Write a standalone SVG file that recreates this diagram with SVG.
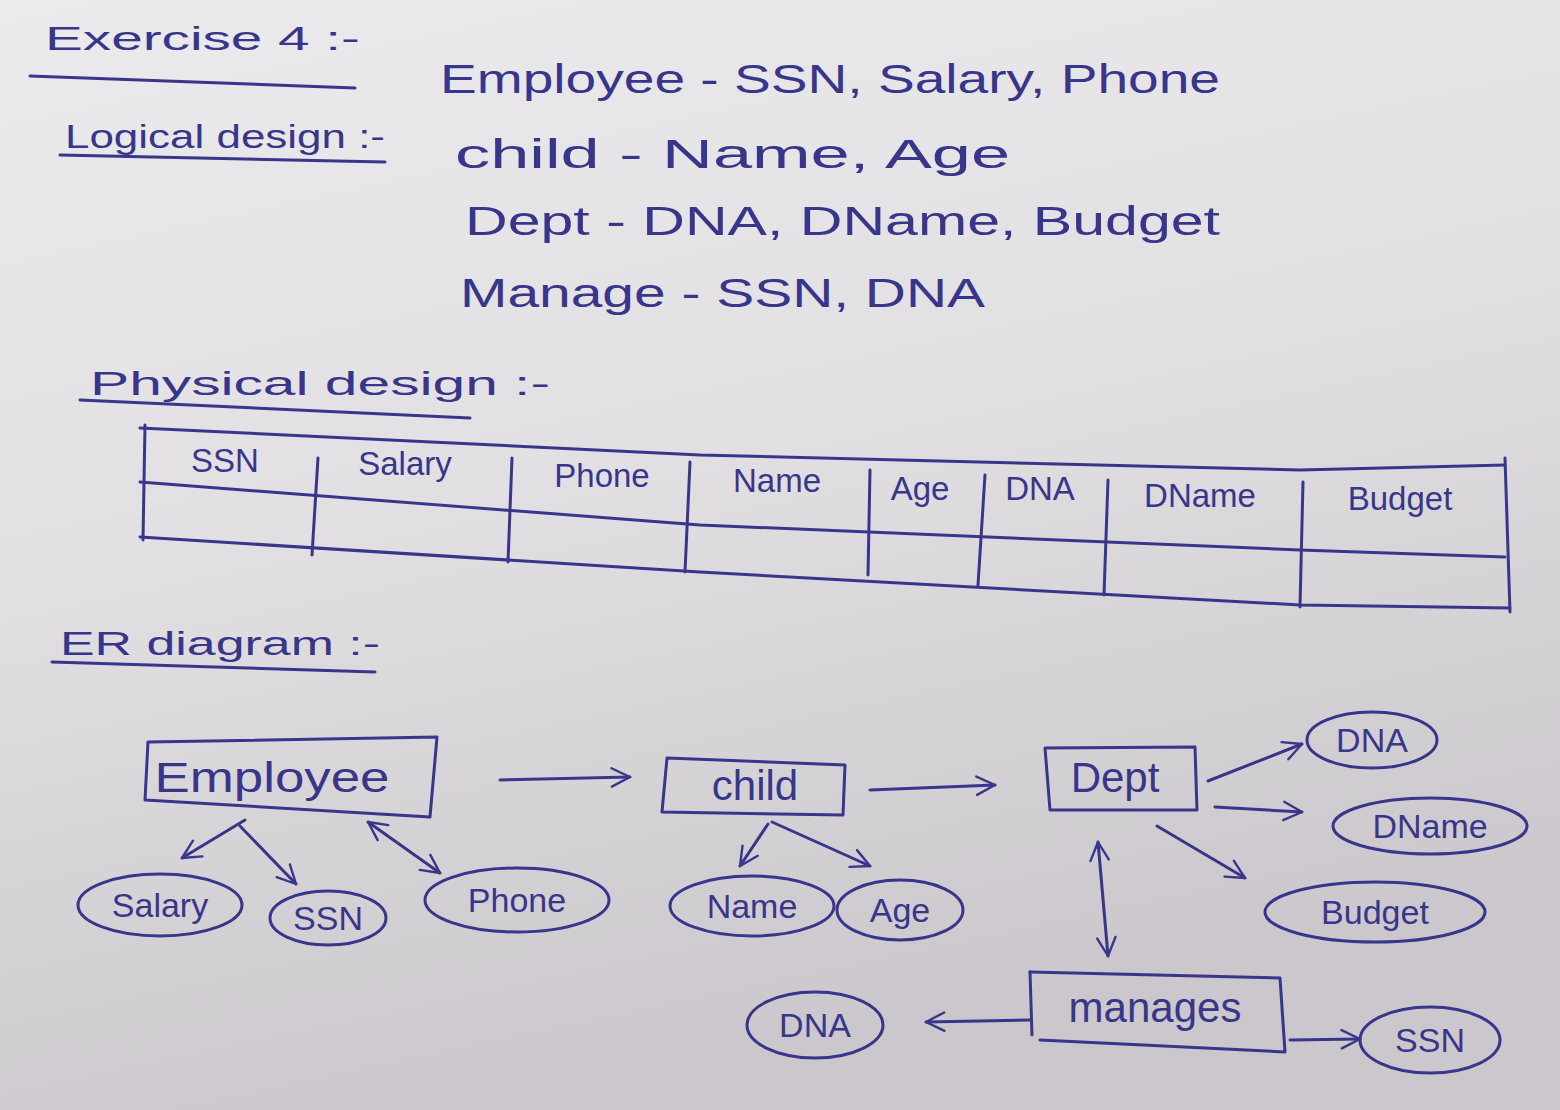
<svg xmlns="http://www.w3.org/2000/svg" width="1560" height="1110" viewBox="0 0 1560 1110">
<defs>
<linearGradient id="paper" x1="0" y1="0" x2="0.3" y2="1">
<stop offset="0" stop-color="#ebeaed"/>
<stop offset="0.5" stop-color="#e1dfe2"/>
<stop offset="1" stop-color="#cbc7cc"/>
</linearGradient>
<marker id="ah" viewBox="0 0 12 12" refX="11" refY="6" markerWidth="22" markerHeight="22" markerUnits="userSpaceOnUse" orient="auto-start-reverse">
<path d="M1,1 L11,6 L1,11" fill="none" stroke="#38368a" stroke-width="1.3" stroke-linecap="round" stroke-linejoin="round"/>
</marker>
</defs>
<style>
.ink{fill:none;stroke:#38368a;stroke-width:3;stroke-linecap:round;stroke-linejoin:round}
.t{font-family:"Liberation Sans","DejaVu Sans",sans-serif;fill:#38368a}
.h{font-size:34px}
.l{font-size:40px}
.c{font-size:33px;text-anchor:middle}
.n{font-size:42px;text-anchor:middle}
.a{font-size:34px;text-anchor:middle}
.arr{fill:none;stroke:#38368a;stroke-width:3;stroke-linecap:round}
</style>
<rect width="1560" height="1110" fill="url(#paper)"/>

<!-- headings -->
<g id="headings">
<text class="t h" x="45" y="50" textLength="315" lengthAdjust="spacingAndGlyphs">Exercise 4 :-</text>
<path class="ink" d="M30,76 L355,88"/>
<text class="t h" x="65" y="148" textLength="320" lengthAdjust="spacingAndGlyphs">Logical design :-</text>
<path class="ink" d="M60,155 L385,162"/>
<text class="t h" x="90" y="395" textLength="460" lengthAdjust="spacingAndGlyphs">Physical design :-</text>
<path class="ink" d="M80,400 L470,418"/>
<text class="t h" x="60" y="655" textLength="320" lengthAdjust="spacingAndGlyphs">ER diagram :-</text>
<path class="ink" d="M52,662 L375,672"/>
</g>

<!-- logical design -->
<g id="logical">
<text class="t l" x="440" y="93" textLength="780" lengthAdjust="spacingAndGlyphs">Employee - SSN, Salary, Phone</text>
<text class="t l" x="455" y="168" textLength="555" lengthAdjust="spacingAndGlyphs">child - Name, Age</text>
<text class="t l" x="465" y="235" textLength="755" lengthAdjust="spacingAndGlyphs">Dept - DNA, DName, Budget</text>
<text class="t l" x="460" y="307" textLength="525" lengthAdjust="spacingAndGlyphs">Manage - SSN, DNA</text>
</g>

<!-- physical design table -->
<g id="table">
<path class="ink" d="M140,428 L700,455 L1300,470 L1505,465"/>
<path class="ink" d="M140,482 L700,525 L1300,550 L1505,557"/>
<path class="ink" d="M140,537 L700,572 L1300,605 L1510,608"/>
<path class="ink" d="M145,425 L143,540 M318,458 L312,555 M512,458 L508,562 M690,462 L685,572 M870,470 L868,575 M985,475 L978,585 M1108,480 L1104,595 M1303,482 L1300,607 M1505,458 L1510,612"/>
<text class="t c" x="225" y="472">SSN</text>
<text class="t c" x="405" y="475">Salary</text>
<text class="t c" x="602" y="487">Phone</text>
<text class="t c" x="777" y="492">Name</text>
<text class="t c" x="920" y="500">Age</text>
<text class="t c" x="1040" y="500">DNA</text>
<text class="t c" x="1200" y="507">DName</text>
<text class="t c" x="1400" y="510">Budget</text>
</g>

<!-- entities -->
<g id="employee">
<path class="ink" d="M148,742 L437,737 L430,817 L145,800 Z"/>
<text class="t n" x="272" y="792" textLength="235" lengthAdjust="spacingAndGlyphs">Employee</text>
</g>
<g id="child">
<path class="ink" d="M667,758 L845,765 L843,815 L662,812 Z"/>
<text class="t n" x="755" y="800">child</text>
</g>
<g id="dept">
<path class="ink" d="M1045,748 L1195,747 L1197,810 L1050,810 Z"/>
<text class="t n" x="1115" y="792">Dept</text>
</g>
<g id="manages">
<path class="ink" d="M1030,972 L1280,978 L1285,1052 L1040,1040"/>
<path class="ink" d="M1030,972 L1032,1035"/>
<text class="t n" x="1155" y="1022">manages</text>
</g>

<!-- attributes -->
<g id="attr-salary">
<ellipse class="ink" cx="160" cy="905" rx="82" ry="31"/>
<text class="t a" x="160" y="917">Salary</text>
</g>
<g id="attr-ssn1">
<ellipse class="ink" cx="328" cy="918" rx="58" ry="27"/>
<text class="t a" x="328" y="930">SSN</text>
</g>
<g id="attr-phone">
<ellipse class="ink" cx="517" cy="900" rx="92" ry="32"/>
<text class="t a" x="517" y="912">Phone</text>
</g>
<g id="attr-name">
<ellipse class="ink" cx="752" cy="906" rx="82" ry="30"/>
<text class="t a" x="752" y="918">Name</text>
</g>
<g id="attr-age">
<ellipse class="ink" cx="900" cy="910" rx="63" ry="30"/>
<text class="t a" x="900" y="922">Age</text>
</g>
<g id="attr-dna1">
<ellipse class="ink" cx="1372" cy="740" rx="65" ry="28"/>
<text class="t a" x="1372" y="752">DNA</text>
</g>
<g id="attr-dname">
<ellipse class="ink" cx="1430" cy="826" rx="97" ry="28"/>
<text class="t a" x="1430" y="838">DName</text>
</g>
<g id="attr-budget">
<ellipse class="ink" cx="1375" cy="912" rx="110" ry="30"/>
<text class="t a" x="1375" y="924">Budget</text>
</g>
<g id="attr-dna2">
<ellipse class="ink" cx="815" cy="1025" rx="68" ry="33"/>
<text class="t a" x="815" y="1037">DNA</text>
</g>
<g id="attr-ssn2">
<ellipse class="ink" cx="1430" cy="1040" rx="70" ry="33"/>
<text class="t a" x="1430" y="1052">SSN</text>
</g>

<!-- connectors -->
<g id="connectors">
<path class="arr" d="M500,780 L630,777" marker-end="url(#ah)"/>
<path class="arr" d="M870,790 L995,785" marker-end="url(#ah)"/>
<path class="arr" d="M245,820 L182,858" marker-end="url(#ah)"/>
<path class="arr" d="M240,826 L296,884" marker-end="url(#ah)"/>
<path class="arr" d="M368,822 L440,873" marker-start="url(#ah)" marker-end="url(#ah)"/>
<path class="arr" d="M768,824 L740,866" marker-end="url(#ah)"/>
<path class="arr" d="M772,822 L870,866" marker-end="url(#ah)"/>
<path class="arr" d="M1208,781 L1302,744" marker-end="url(#ah)"/>
<path class="arr" d="M1215,807 L1302,812" marker-end="url(#ah)"/>
<path class="arr" d="M1157,826 L1245,878" marker-end="url(#ah)"/>
<path class="arr" d="M1098,842 L1108,956" marker-start="url(#ah)" marker-end="url(#ah)"/>
<path class="arr" d="M1030,1020 L926,1022" marker-end="url(#ah)"/>
<path class="arr" d="M1290,1040 L1360,1039" marker-end="url(#ah)"/>
</g>
</svg>
